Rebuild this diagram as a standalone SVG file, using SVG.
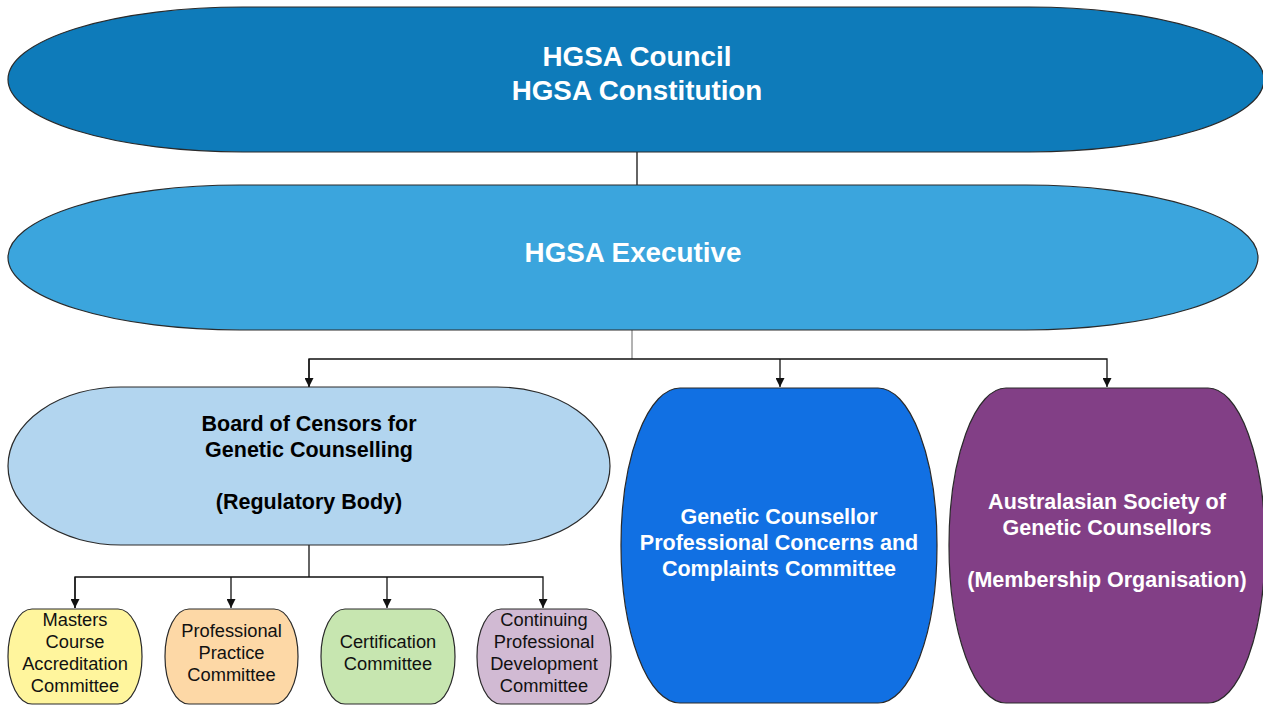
<svg xmlns="http://www.w3.org/2000/svg" width="1263" height="706" viewBox="0 0 1263 706">
<defs>
<marker id="arr" viewBox="0 0 10 10" refX="10" refY="5" markerWidth="9" markerHeight="9" markerUnits="userSpaceOnUse" orient="auto">
<path d="M0,0 L10,5 L0,10 z" fill="#111"/>
</marker>
<style>
.shape{stroke:#2a2a2a;stroke-width:1.2}
.big{font-family:"Liberation Sans",Arial,sans-serif;font-weight:bold;font-size:27.8px;fill:#fff;text-anchor:middle}
.mid{font-family:"Liberation Sans",Arial,sans-serif;font-weight:bold;font-size:21.5px;text-anchor:middle}
.small{font-family:"Liberation Sans",Arial,sans-serif;font-size:18.3px;fill:#111;text-anchor:middle}
.con{fill:none;stroke:#111;stroke-width:1.3}
</style>
</defs>
<rect width="1263" height="706" fill="#fff"/>
<g id="connectors">
<line class="con" x1="637" y1="152" x2="637" y2="185" stroke-width="1.8"/>
<line x1="632" y1="330" x2="632" y2="359" stroke="#666" stroke-width="1"/>
<polyline class="con" points="309,387 309,359 1107,359 1107,387" marker-end="url(#arr)"/>
<line class="con" x1="309" y1="359" x2="309" y2="387" marker-end="url(#arr)"/>
<line class="con" x1="780" y1="359" x2="780" y2="387" marker-end="url(#arr)"/>
<line class="con" x1="309" y1="545" x2="309" y2="577"/>
<polyline class="con" points="75,608 75,577 543,577 543,608" marker-end="url(#arr)"/>
<line class="con" x1="75" y1="577" x2="75" y2="608" marker-end="url(#arr)"/>
<line class="con" x1="231" y1="577" x2="231" y2="608" marker-end="url(#arr)" stroke="#555"/>
<line class="con" x1="387" y1="577" x2="387" y2="608" marker-end="url(#arr)"/>
</g>
<g id="council">
<rect class="shape" x="8" y="7" width="1256" height="145" rx="235" ry="72.5" fill="#0E7BBA"/>
<text class="big" x="637" y="66">HGSA Council</text>
<text class="big" x="637" y="100">HGSA Constitution</text>
</g>
<g id="executive">
<rect class="shape" x="8" y="185" width="1250" height="145" rx="232" ry="72.5" fill="#3BA5DD"/>
<text class="big" x="633" y="262">HGSA Executive</text>
</g>
<g id="board">
<rect class="shape" x="8" y="387" width="602" height="158" rx="113" ry="79" fill="#B2D5EF"/>
<text class="mid" x="309" y="431" fill="#000">Board of Censors for</text>
<text class="mid" x="309" y="457" fill="#000">Genetic Counselling</text>
<text class="mid" x="309" y="509" fill="#000">(Regulatory Body)</text>
</g>
<g id="complaints">
<rect class="shape" x="621" y="388" width="316" height="315" rx="59" ry="157" fill="#1170E3"/>
<text class="mid" x="779" y="524" fill="#fff">Genetic Counsellor</text>
<text class="mid" x="779" y="550" fill="#fff">Professional Concerns and</text>
<text class="mid" x="779" y="576" fill="#fff">Complaints Committee</text>
</g>
<g id="asgc">
<rect class="shape" x="949" y="388" width="316" height="315" rx="57" ry="157" fill="#823F86"/>
<text class="mid" x="1107" y="509" fill="#fff">Australasian Society of</text>
<text class="mid" x="1107" y="535" fill="#fff">Genetic Counsellors</text>
<text class="mid" x="1107" y="587" fill="#fff">(Membership Organisation)</text>
</g>
<g id="masters">
<rect class="shape" x="8" y="609" width="134" height="95" rx="24" ry="47" fill="#FFF59D"/>
<text class="small" x="75" y="626">Masters</text>
<text class="small" x="75" y="648">Course</text>
<text class="small" x="75" y="670">Accreditation</text>
<text class="small" x="75" y="692">Committee</text>
</g>
<g id="practice">
<rect class="shape" x="165" y="609" width="133" height="95" rx="24" ry="47" fill="#FDD8A6"/>
<text class="small" x="231.5" y="637">Professional</text>
<text class="small" x="231.5" y="659">Practice</text>
<text class="small" x="231.5" y="681">Committee</text>
</g>
<g id="certification">
<rect class="shape" x="321" y="609" width="134" height="95" rx="24" ry="47" fill="#C7E6B0"/>
<text class="small" x="388" y="648">Certification</text>
<text class="small" x="388" y="670">Committee</text>
</g>
<g id="cpd">
<rect class="shape" x="477" y="609" width="134" height="95" rx="24" ry="47" fill="#D1BAD3"/>
<text class="small" x="544" y="626">Continuing</text>
<text class="small" x="544" y="648">Professional</text>
<text class="small" x="544" y="670">Development</text>
<text class="small" x="544" y="692">Committee</text>
</g>
</svg>
